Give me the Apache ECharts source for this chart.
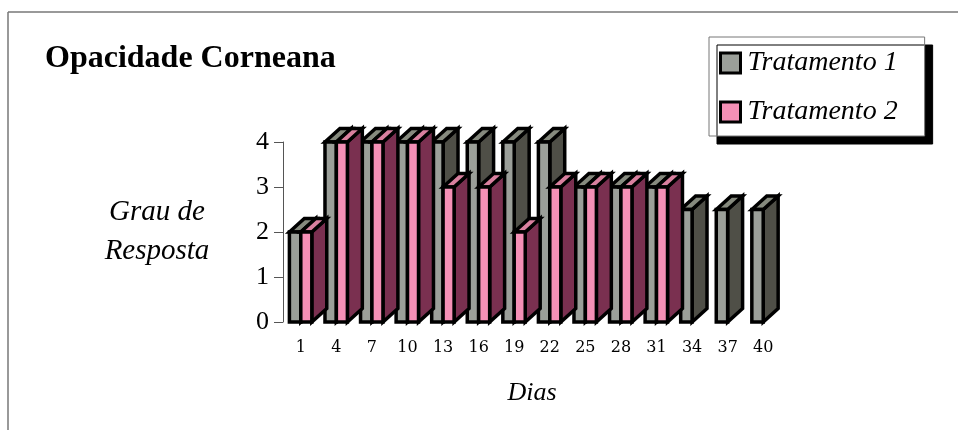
<!DOCTYPE html>
<html>
<head>
<meta charset="utf-8">
<style>
  html, body { margin: 0; padding: 0; background: #fff; }
  #chart { width: 958px; height: 430px; }
</style>
<script src="https://cdn.jsdelivr.net/npm/echarts@6/dist/echarts.min.js"></script>
</head>
<body>
<div id="chart"></div>
<script>
const dias = ['1', '4', '7', '10', '13', '16', '19', '22', '25', '28', '31', '34', '37', '40'];
const tratamento1 = [2, 4, 4, 4, 4, 4, 4, 4, 3, 3, 3, 2.5, 2.5, 2.5];
const tratamento2 = [2, 4, 4, 4, 3, 3, 2, 3, 3, 3, 3, null, null, null];

const serif = '"Liberation Serif", serif';
const outline = { stroke: '#000', lineWidth: 3.5, lineJoin: 'miter' };

// one half of a 3D column: front face, top and right side
function column (colors, leftFrac, rightFrac) {
  return function (params, api) {
    const value = api.value(1);
    if (isNaN(value)) return null;
    const base = api.coord([api.value(0), 0]);
    const top = api.coord([api.value(0), value]);
    const band = api.size([1, 0])[0];
    const x0 = top[0] + band * leftFrac;
    const x1 = top[0] + band * rightFrac;
    const dx = band * 0.42;
    const dy = band * 0.38;
    const face = (points, fill) => ({
      type: 'polygon',
      shape: { points: points },
      style: Object.assign({ fill: fill }, outline)
    });
    return {
      type: 'group',
      children: [
        face([[x1, top[1]], [x1 + dx, top[1] - dy], [x1 + dx, base[1] - dy], [x1, base[1]]], colors.side),
        face([[x0, top[1]], [x0 + dx, top[1] - dy], [x1 + dx, top[1] - dy], [x1, top[1]]], colors.top),
        face([[x0, top[1]], [x1, top[1]], [x1, base[1]], [x0, base[1]]], colors.front)
      ]
    };
  };
}

const chart = echarts.init(document.getElementById('chart'), null, { renderer: 'canvas' });
chart.setOption({
  animation: false,
  backgroundColor: '#fff',
  title: {
    text: 'Opacidade Corneana',
    left: 45,
    top: 43,
    padding: 0,
    textStyle: { fontFamily: serif, fontWeight: 'bold', fontSize: 32, color: '#000' }
  },
  legend: {
    left: 709,
    top: 37,
    orient: 'vertical',
    padding: [12, 27, 10, 10],
    itemGap: 21,
    itemWidth: 20,
    itemHeight: 20,
    icon: 'rect',
    backgroundColor: '#fff',
    borderColor: '#777',
    borderWidth: 1,
    shadowColor: '#000',
    shadowBlur: 0,
    shadowOffsetX: 8,
    shadowOffsetY: 8,
    textStyle: { fontFamily: serif, fontStyle: 'italic', fontSize: 28, color: '#000', padding: [0, 0, 0, 2] },
    itemStyle: { borderColor: '#000', borderWidth: 3 },
    data: ['Tratamento 1', 'Tratamento 2']
  },
  grid: { left: 283, top: 142, width: 498, height: 180 },
  xAxis: {
    type: 'category',
    data: dias,
    name: 'Dias',
    nameLocation: 'middle',
    nameGap: 58,
    nameTextStyle: { fontFamily: serif, fontStyle: 'italic', fontSize: 26, color: '#000' },
    axisLine: { show: false },
    axisTick: { show: false },
    axisLabel: { fontFamily: '"DejaVu Serif", serif', fontSize: 16, color: '#000', margin: 18, interval: 0 }
  },
  yAxis: {
    type: 'value',
    min: 0,
    max: 4,
    interval: 1,
    name: 'Grau de\nResposta',
    nameLocation: 'middle',
    nameGap: 126,
    nameRotate: 0,
    nameTextStyle: { fontFamily: serif, fontStyle: 'italic', fontSize: 29, lineHeight: 39, color: '#000', align: 'center' },
    splitLine: { show: false },
    axisLine: { show: true, lineStyle: { color: '#555', width: 1 } },
    axisTick: { show: true, length: 9, lineStyle: { color: '#555', width: 1 } },
    axisLabel: { fontFamily: serif, fontSize: 26, color: '#000', margin: 14 }
  },
  series: [
    {
      name: 'Tratamento 1',
      type: 'custom',
      itemStyle: { color: '#9b9f99' },
      clip: false,
      encode: { x: 0, y: 1 },
      renderItem: column({ front: '#9b9f99', side: '#4f4f47', top: '#868a7e' }, -0.32, 0),
      data: tratamento1.map((v, i) => [i, v])
    },
    {
      name: 'Tratamento 2',
      type: 'custom',
      itemStyle: { color: '#f590b6' },
      clip: false,
      encode: { x: 0, y: 1 },
      renderItem: column({ front: '#f590b6', side: '#7a3050', top: '#d9809f' }, 0, 0.31),
      data: tratamento2.map((v, i) => [i, v === null ? NaN : v])
    }
  ],
  graphic: [
    // scanned frame round the chart: top and left only
    { type: 'line', silent: true, shape: { x1: 8, y1: 12, x2: 958, y2: 12 }, style: { stroke: '#777', lineWidth: 1.5 } },
    { type: 'line', silent: true, shape: { x1: 8, y1: 12, x2: 8, y2: 430 }, style: { stroke: '#777', lineWidth: 1.5 } }
  ]
});
</script>
</body>
</html>
